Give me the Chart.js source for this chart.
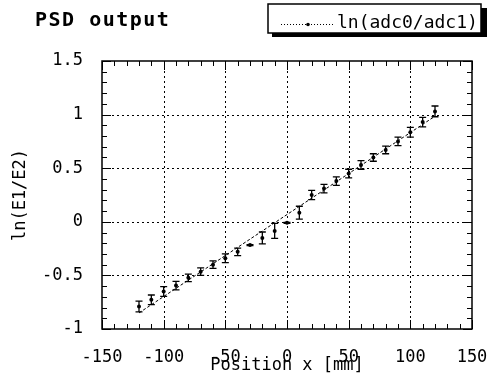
<!DOCTYPE html>
<html>
<head>
<meta charset="utf-8">
<script src="https://cdn.jsdelivr.net/npm/chart.js@4.4.1/dist/chart.umd.min.js"></script>
<style>
  html, body { margin: 0; padding: 0; background: #fff; }
  #wrap { width: 488px; height: 383px; }
</style>
</head>
<body>
<div id="wrap"><canvas id="psd" width="488" height="383"></canvas></div>
<script>
// measured points: position [mm] vs ln(adc0/adc1), with error
const positions = [-120, -110, -100, -90, -80, -70, -60, -50, -40, -30, -20, -10, 0,
                   10, 20, 30, 40, 50, 60, 70, 80, 90, 100, 110, 120];
const lnRatio = [-0.79, -0.728, -0.65, -0.595, -0.523, -0.465, -0.40, -0.34, -0.28, -0.217, -0.15, -0.085, -0.01,
                 0.085, 0.25, 0.31, 0.38, 0.45, 0.53, 0.60, 0.67, 0.75, 0.835, 0.93, 1.03];
const lnErr = [0.05, 0.045, 0.045, 0.04, 0.035, 0.035, 0.035, 0.04, 0.035, 0.004, 0.055, 0.07, 0.004,
               0.06, 0.043, 0.04, 0.04, 0.04, 0.04, 0.035, 0.035, 0.04, 0.045, 0.045, 0.05];

// straight line fit drawn through the data
const fitX = [-120, 120];
const fitY = [-0.85, 0.985];

const titleText = 'PSD output';
const legendText = 'ln(adc0/adc1)';
const xTitle = 'Position x [mm]';
const yTitle = 'ln(E1/E2)';

const monoFont = "'DejaVu Sans Mono', monospace";

// frame, dotted grid, inner ticks, error bars, title and legend box
const decorPlugin = {
    id: 'decor',
    beforeDatasetsDraw(chart) {
        const ctx = chart.ctx;
        const area = chart.chartArea;
        const xs = chart.scales.x;
        const ys = chart.scales.y;
        ctx.save();
        ctx.strokeStyle = '#000';
        ctx.lineWidth = 1;
        ctx.setLineDash([2, 3]);
        xs.ticks.forEach(t => {
            if (t.value <= xs.min || t.value >= xs.max) return;
            const px = Math.round(xs.getPixelForValue(t.value)) + 0.5;
            ctx.beginPath();
            ctx.moveTo(px, area.top);
            ctx.lineTo(px, area.bottom);
            ctx.stroke();
        });
        ys.ticks.forEach(t => {
            if (t.value <= ys.min || t.value >= ys.max) return;
            const py = Math.round(ys.getPixelForValue(t.value)) + 0.5;
            ctx.beginPath();
            ctx.moveTo(area.left, py);
            ctx.lineTo(area.right, py);
            ctx.stroke();
        });
        ctx.setLineDash([]);

        // minor + major tick marks pointing inward on all four sides
        ctx.lineWidth = 1;
        for (let v = xs.min; v <= xs.max + 0.001; v += 10) {
            const major = Math.abs(v % 50) < 0.001;
            const len = major ? 9 : 5;
            const px = Math.round(xs.getPixelForValue(v)) + 0.5;
            ctx.beginPath();
            ctx.moveTo(px, area.bottom);
            ctx.lineTo(px, area.bottom - len);
            ctx.moveTo(px, area.top);
            ctx.lineTo(px, area.top + len);
            ctx.stroke();
        }
        for (let i = 0; i <= 25; i++) {
            const v = ys.min + i * 0.1;
            const major = i % 5 === 0;
            const len = major ? 9 : 5;
            const py = Math.round(ys.getPixelForValue(v)) + 0.5;
            ctx.beginPath();
            ctx.moveTo(area.left, py);
            ctx.lineTo(area.left + len, py);
            ctx.moveTo(area.right, py);
            ctx.lineTo(area.right - len, py);
            ctx.stroke();
        }

        // frame
        ctx.lineWidth = 1.5;
        ctx.strokeRect(area.left, area.top, area.right - area.left, area.bottom - area.top);

        // error bars
        ctx.lineWidth = 1.3;
        positions.forEach((x, i) => {
            const px = xs.getPixelForValue(x);
            const yTop = ys.getPixelForValue(lnRatio[i] + lnErr[i]);
            const yBot = ys.getPixelForValue(lnRatio[i] - lnErr[i]);
            ctx.beginPath();
            ctx.moveTo(px, yTop);
            ctx.lineTo(px, yBot);
            ctx.moveTo(px - 3.5, yTop);
            ctx.lineTo(px + 3.5, yTop);
            ctx.moveTo(px - 3.5, yBot);
            ctx.lineTo(px + 3.5, yBot);
            ctx.stroke();
        });
        ctx.restore();
    },
    afterDraw(chart) {
        const ctx = chart.ctx;
        ctx.save();
        // title
        ctx.fillStyle = '#000';
        ctx.font = 'bold 20px ' + monoFont;
        if ('letterSpacing' in ctx) ctx.letterSpacing = '1.5px';
        ctx.textBaseline = 'middle';
        ctx.textAlign = 'left';
        ctx.fillText(titleText, 35, 21);
        if ('letterSpacing' in ctx) ctx.letterSpacing = '0px';

        // legend box with drop shadow
        ctx.fillStyle = '#000';
        ctx.fillRect(272, 8, 215, 29);
        ctx.fillStyle = '#fff';
        ctx.fillRect(268, 4, 213, 29);
        ctx.strokeStyle = '#000';
        ctx.lineWidth = 1.5;
        ctx.strokeRect(268, 4, 213, 29);

        ctx.lineWidth = 1;
        ctx.setLineDash([1, 2]);
        ctx.beginPath();
        ctx.moveTo(281, 24.5);
        ctx.lineTo(333, 24.5);
        ctx.stroke();
        ctx.setLineDash([]);
        ctx.fillStyle = '#000';
        ctx.beginPath();
        ctx.arc(308, 24.5, 1.8, 0, Math.PI * 2);
        ctx.fill();

        ctx.font = '18px ' + monoFont;
        ctx.textBaseline = 'middle';
        ctx.fillText(legendText, 337, 23);
        ctx.restore();
    }
};

const ctx = document.getElementById('psd').getContext('2d');

new Chart(ctx, {
    data: {
        datasets: [
            {
                type: 'line',
                label: 'fit',
                data: fitX.map((x, i) => ({ x: x, y: fitY[i] })),
                borderColor: '#000',
                borderWidth: 1,
                borderDash: [3, 2],
                pointRadius: 0,
                fill: false
            },
            {
                type: 'scatter',
                label: legendText,
                data: positions.map((x, i) => ({ x: x, y: lnRatio[i] })),
                backgroundColor: '#000',
                borderColor: '#000',
                pointRadius: 2,
                pointBorderWidth: 0
            }
        ]
    },
    options: {
        responsive: false,
        animation: false,
        devicePixelRatio: 1,
        layout: { padding: { left: 0, top: 61, right: 16, bottom: 0 } },
        plugins: {
            legend: { display: false },
            tooltip: { enabled: false },
            title: { display: false }
        },
        scales: {
            x: {
                type: 'linear',
                min: -150, max: 150,
                grid: { display: false },
                border: { display: false },
                ticks: {
                    stepSize: 50,
                    color: '#000',
                    padding: 10,
                    font: { family: monoFont, size: 17 }
                },
                title: {
                    display: true,
                    text: xTitle,
                    color: '#000',
                    padding: { top: 0, bottom: 7 },
                    font: { family: monoFont, size: 17 }
                },
                afterFit: scale => {
                    scale.height = 54;
                    scale.paddingLeft = 0;
                    scale.paddingRight = 0;
                }
            },
            y: {
                type: 'linear',
                min: -1, max: 1.5,
                grid: { display: false },
                border: { display: false },
                ticks: {
                    stepSize: 0.5,
                    color: '#000',
                    padding: 11,
                    font: { family: monoFont, size: 17 },
                    callback: value => String(+value.toFixed(2))
                },
                title: {
                    display: true,
                    text: yTitle,
                    color: '#000',
                    padding: { top: 10, bottom: 0 },
                    font: { family: monoFont, size: 17 }
                },
                afterFit: scale => {
                    scale.width = 102;
                    scale.paddingTop = 0;
                    scale.paddingBottom = 0;
                }
            }
        }
    },
    plugins: [decorPlugin]
});
</script>
</body>
</html>
